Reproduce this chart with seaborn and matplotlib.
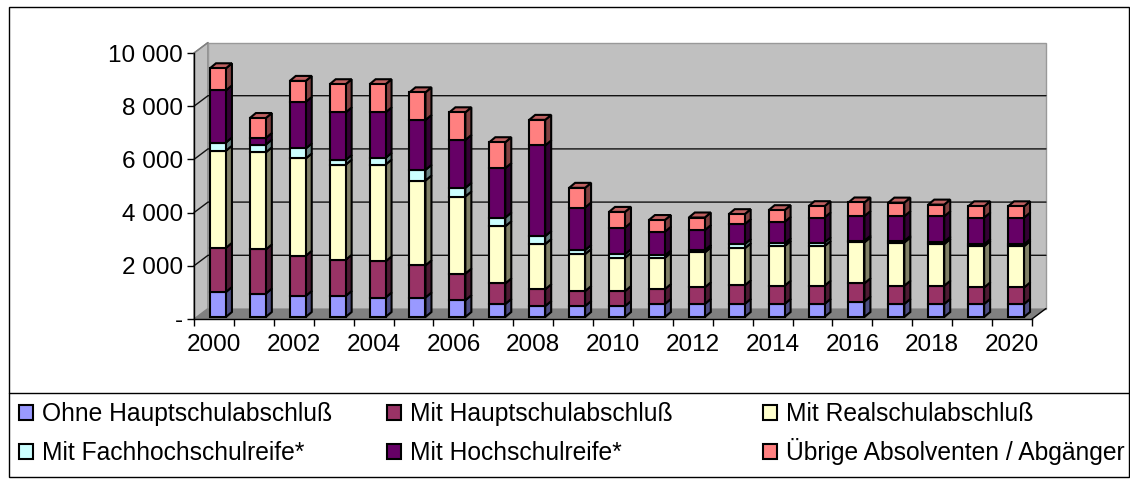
import numpy as np
import seaborn as sns
import matplotlib.pyplot as plt
from matplotlib.patches import Patch, Rectangle

# Values
years = np.arange(2000, 2021)
ohne_hs = [940, 880, 790, 790, 730, 730, 630, 490, 410, 410, 410, 490, 490, 490, 490, 490, 580, 490, 490, 490, 490]
mit_hs = [1660, 1660, 1510, 1360, 1360, 1210, 1000, 770, 630, 565, 565, 560, 625, 700, 685, 685, 685, 685, 685, 620, 620]
mit_real = [3650, 3650, 3660, 3575, 3640, 3190, 2900, 2150, 1700, 1390, 1250, 1175, 1310, 1390, 1490, 1490, 1540, 1625, 1565, 1550, 1550]
mit_fach = [310, 290, 375, 175, 250, 400, 325, 325, 300, 150, 135, 90, 90, 160, 100, 135, 60, 60, 85, 75, 75]
mit_hoch = [1960, 250, 1750, 1790, 1710, 1875, 1800, 1860, 3410, 1600, 1000, 890, 750, 750, 810, 940, 930, 930, 960, 1000, 1000]
uebrige = [830, 750, 790, 1060, 1060, 1040, 1040, 975, 960, 740, 590, 440, 475, 375, 440, 425, 510, 510, 440, 425, 425]

series = [ohne_hs, mit_hs, mit_real, mit_fach, mit_hoch, uebrige]
names = ["Ohne Hauptschulabschluß", "Mit Hauptschulabschluß", "Mit Realschulabschluß",
         "Mit Fachhochschulreife*", "Mit Hochschulreife*", "Übrige Absolventen / Abgänger"]
colors = ["#9999FF", "#993366", "#FFFFCC", "#CCFFFF", "#660066", "#FF8080"]

W, H = 1130, 479
sns.set_theme(style="white")
plt.rcParams["font.family"] = ["Liberation Sans", "DejaVu Sans"]

fig = plt.figure(figsize=(W / 100, H / 100), dpi=100)
ax = fig.add_axes([194 / W, 1 - 319 / H, (1032 - 194) / W, (319 - 53) / H])
ax.set_facecolor("none")

# pseudo 3D depth in data units
px_x = 21 / (1032 - 194)
px_y = 10000 / (319 - 53)
wall_dx, wall_dy = 14 * px_x, 10.5 * px_y
bar_dx, bar_dy = 6 * px_x, 5 * px_y
shift_x, lift_y = 4 * px_x, 2 * px_y
x0, x1 = 1999.5, 2020.5

# walls and floor
ax.fill([x0, x0 + wall_dx, x0 + wall_dx, x0], [0, wall_dy, 10000 + wall_dy, 10000],
        fc="#C0C0C0", ec="#808080", lw=1, clip_on=False, zorder=0)
ax.fill([x0 + wall_dx, x1 + wall_dx, x1 + wall_dx, x0 + wall_dx],
        [wall_dy, wall_dy, 10000 + wall_dy, 10000 + wall_dy],
        fc="#C0C0C0", ec="#999999", lw=1, clip_on=False, zorder=0)
ax.fill([x0, x1, x1 + wall_dx, x0 + wall_dx], [0, 0, wall_dy, wall_dy],
        fc="#808080", ec="none", clip_on=False, zorder=0.5)
ax.plot([x1, x1 + wall_dx], [0, wall_dy], color="black", lw=1, clip_on=False, zorder=0.6)

for v in range(2000, 10000, 2000):
    ax.plot([x0, x0 + wall_dx, x1 + wall_dx], [v, v + wall_dy, v + wall_dy],
            color="#111111", lw=1, clip_on=False, zorder=0.7)
ax.plot([x0, x0 + wall_dx], [10000, 10000 + wall_dy], color="#808080", lw=1, clip_on=False, zorder=0.7)

# stacked bars: front faces through seaborn, side and top faces from the same values
bottom = np.zeros(len(years))
bar_w = 0.4
for vals, col in zip(series, colors):
    vals = np.array(vals, dtype=float)
    sns.barplot(x=years + shift_x, y=vals, bottom=bottom + lift_y, native_scale=True, width=bar_w,
                color=col, saturation=1, edgecolor="black", linewidth=1.5, errorbar=None, ax=ax,
                zorder=3)
    dark = tuple(c * 0.5 for c in plt.matplotlib.colors.to_rgb(col))
    for yr, b, v in zip(years + shift_x, bottom + lift_y, vals):
        r = yr + bar_w / 2
        ax.fill([r, r + bar_dx, r + bar_dx, r], [b, b + bar_dy, b + v + bar_dy, b + v],
                fc=dark, ec="black", lw=1.5, clip_on=False, zorder=2.5)
    bottom += vals

top_dark = tuple(c * 0.75 for c in plt.matplotlib.colors.to_rgb(colors[-1]))
for yr, t in zip(years + shift_x, bottom + lift_y):
    l, r = yr - bar_w / 2, yr + bar_w / 2
    ax.fill([l, r, r + bar_dx, l + bar_dx], [t, t, t + bar_dy, t + bar_dy],
            fc=top_dark, ec="black", lw=1.5, clip_on=False, zorder=2.5)

# axes
ax.set_xlim(x0, x1)
ax.set_ylim(0, 10000)
ax.set_xlabel("")
ax.set_ylabel("")
for s in ["top", "right"]:
    ax.spines[s].set_visible(False)
for s in ["left", "bottom"]:
    ax.spines[s].set_color("black")
    ax.spines[s].set_linewidth(1)
    ax.spines[s].set_zorder(1)

ax.set_yticks(range(0, 10001, 2000))
ax.set_yticklabels(["-", "2 000", "4 000", "6 000", "8 000", "10 000"])
ax.set_xticks(years[::2])
ax.set_xticklabels([str(y) for y in years[::2]])
ax.set_xticks(np.arange(x0, x1 + 0.5), minor=True)
ax.tick_params(axis="x", which="major", length=0, pad=11, labelsize=17.5, labelcolor="black")
ax.tick_params(axis="x", which="minor", length=5, width=1, color="black", bottom=True)
ax.tick_params(axis="y", length=5, width=1, color="black", left=True, pad=3, labelsize=17.5, labelcolor="black")

# chart border and legend box
fig.add_artist(Rectangle((9 / W, 1 - 477 / H), 1120 / W, 470 / H, transform=fig.transFigure,
                         fc="none", ec="black", lw=1))
fig.add_artist(plt.Line2D([9 / W, 1129 / W], [1 - 393 / H, 1 - 393 / H], color="black", lw=1))

# one small legend per entry, anchored at the bottom so the rows share a baseline
legend_x = [19, 387, 763]
legend_y = [426, 465]
for i, (name, col) in enumerate(zip(names, colors)):
    handle = Patch(facecolor=col, edgecolor="black", linewidth=1.5)
    leg = fig.legend([handle], [name], loc="lower left",
                     bbox_to_anchor=(legend_x[i % 3] / W, 1 - legend_y[i // 3] / H),
                     frameon=False, fontsize=17.7, handlelength=0.55, handleheight=0.55,
                     handletextpad=0.4, borderpad=0, borderaxespad=0, labelcolor="black")

plt.savefig("out.png", dpi=100)
